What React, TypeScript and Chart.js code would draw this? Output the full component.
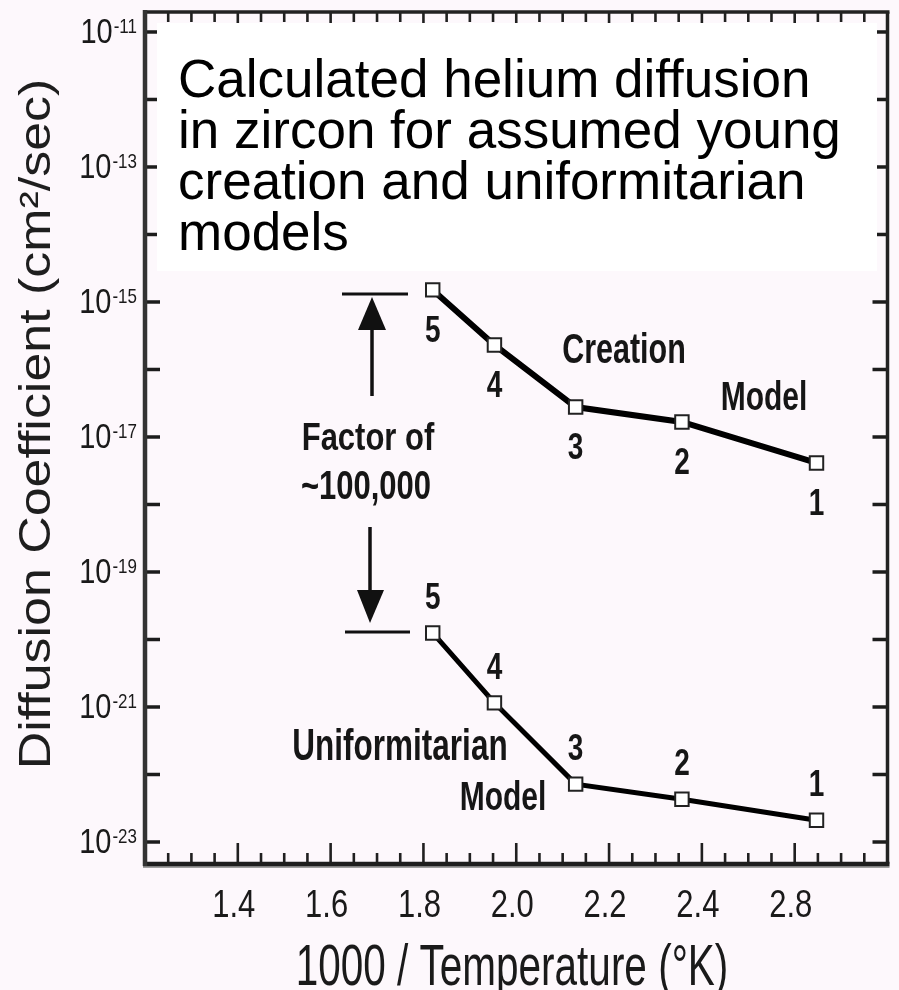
import { useEffect, useRef } from "react";
import { Chart, registerables } from "chart.js";

Chart.register(...registerables);

const SANS = "'Liberation Sans', Arial, sans-serif";
const BG = "#fdf8fc";
const INK = "#161616";

// ---- data ----
const inverseTemperature = [1.82, 1.953, 2.128, 2.357, 2.647];
const creationModel = [1.51e-15, 2.31e-16, 2.78e-17, 1.67e-17, 4.12e-18];
const uniformitarianModel = [1.25e-20, 1.15e-21, 7.2e-23, 4.3e-23, 2.1e-23];
const sampleLabels = ["5", "4", "3", "2", "1"];
const xTickValues = [1.4, 1.6, 1.8, 2.0, 2.2, 2.4, 2.6];
const xTickLabels = ["1.4", "1.6", "1.8", "2.0", "2.2", "2.4", "2.8"];
const yExponents = [-23, -22, -21, -20, -19, -18, -17, -16, -15, -14, -13, -12, -11];
const yLabelExponents = [-23, -21, -19, -17, -15, -13, -11];
const titleLines = [
  "Calculated helium diffusion",
  "in zircon for assumed young",
  "creation and uniformitarian",
  "models",
];
const yTitle = "Diffusion Coefficient (cm\u00B2/sec)";
const xTitle = "1000 / Temperature (\u00B0K)";

function stretched(
  ctx: CanvasRenderingContext2D, text: string, x: number, y: number, size: number,
  weight: string, sy: number, align: CanvasTextAlign = "center", color: string = INK
) {
  ctx.save();
  ctx.translate(x, y);
  ctx.scale(1, sy);
  ctx.font = `${weight} ${size}px ${SANS}`;
  ctx.textAlign = align;
  ctx.textBaseline = "alphabetic";
  ctx.fillStyle = color;
  ctx.fillText(text, 0, 0);
  ctx.restore();
}

function line(ctx: CanvasRenderingContext2D, x1: number, y1: number, x2: number, y2: number, w: number, c: string) {
  ctx.beginPath();
  ctx.moveTo(x1, y1);
  ctx.lineTo(x2, y2);
  ctx.lineWidth = w;
  ctx.strokeStyle = c;
  ctx.stroke();
}

export default function App() {
  const ref = useRef<HTMLCanvasElement>(null);

  useEffect(() => {
    document.body.style.margin = "0";
    document.body.style.background = BG;
    const canvas = ref.current!;

    const decor = {
      id: "decor",
      beforeDraw(chart: any) {
        const ctx = chart.ctx;
        ctx.save();
        ctx.fillStyle = BG;
        ctx.fillRect(0, 0, chart.width, chart.height);
        ctx.restore();
      },
      beforeDatasetsDraw(chart: any) {
        const ctx: CanvasRenderingContext2D = chart.ctx;
        const { left, right, top, bottom } = chart.chartArea;
        const xs = chart.scales.x;
        const ys = chart.scales.y;
        ctx.save();
        ctx.lineCap = "butt";
        // x ticks (bottom + top, inward)
        for (let i = 125; i <= 275; i += 5) {
          const px = xs.getPixelForValue(i / 100);
          const major = i % 20 === 0;
          line(ctx, px, bottom, px, bottom - (major ? 21 : 11), 2.6, "#202020");
          line(ctx, px, top, px, top + (major ? 12 : 10), 2.6, "#202020");
        }
        // y ticks (left + right, inward)
        for (const e of yExponents) {
          const py = ys.getPixelForValue(Math.pow(10, e));
          line(ctx, left, py, left + 15, py, 3.5, "#1c1c1c");
          line(ctx, right, py, right - 15, py, 3.5, "#1c1c1c");
        }
        // frame
        line(ctx, left - 2, top, right + 2, top, 3.5, "#222");
        line(ctx, right, top, right, bottom, 3.5, "#222");
        line(ctx, left - 2, bottom + 3, right + 2, bottom + 3, 2, "#a0a0a0");
        line(ctx, left - 2, bottom, right + 2, bottom, 4.5, "#1e1e1e");
        line(ctx, left, top - 2, left, bottom + 2, 4.5, "#333");

        // y tick labels: 10 with superscript exponent
        for (const e of yLabelExponents) {
          const py = ys.getPixelForValue(Math.pow(10, e));
          const expText = String(e);
          ctx.font = `17px ${SANS}`;
          const ew = ctx.measureText(expText).width;
          stretched(ctx, expText, left - 8, py + 1, 17, "normal", 1.15, "right", "#1a1a1a");
          stretched(ctx, "10", left - 9 - ew, py + 11, 29, "normal", 1.2, "right", "#1a1a1a");
        }
        // x tick labels
        xTickValues.forEach((v, i) => {
          const px = xs.getPixelForValue(v);
          stretched(ctx, xTickLabels[i], px - 4, 917, 31, "normal", 1.27, "center", "#1a1a1a");
        });
        // axis titles
        stretched(ctx, xTitle, 512, 985, 40.5, "normal", 1.4, "center", "#1a1a1a");
        ctx.save();
        ctx.translate(50, 424);
        ctx.rotate(-Math.PI / 2);
        ctx.scale(1.18, 1);
        ctx.font = `44px ${SANS}`;
        ctx.textAlign = "center";
        ctx.textBaseline = "alphabetic";
        ctx.fillStyle = "#1e1e1e";
        ctx.fillText(yTitle, 0, 0);
        ctx.restore();

        // title box
        ctx.fillStyle = "#ffffff";
        ctx.fillRect(157, 23, 720, 248);
        ctx.font = `53px ${SANS}`;
        ctx.fillStyle = "#000";
        ctx.textAlign = "left";
        ctx.textBaseline = "alphabetic";
        titleLines.forEach((t, i) => ctx.fillText(t, 178, 97 + i * 51));
        ctx.restore();
      },
      afterDatasetsDraw(chart: any) {
        const ctx: CanvasRenderingContext2D = chart.ctx;
        ctx.save();
        // sample numbers
        const m0 = chart.getDatasetMeta(0).data;
        const m1 = chart.getDatasetMeta(1).data;
        sampleLabels.forEach((lab, i) => {
          stretched(ctx, lab, m0[i].x, m0[i].y + 52, 28, "bold", 1.3);
          stretched(ctx, lab, m1[i].x, m1[i].y - 24, 28, "bold", 1.3);
        });
        // model names
        stretched(ctx, "Creation", 624, 363, 30.5, "bold", 1.4);
        stretched(ctx, "Model", 764, 410, 30, "bold", 1.38);
        stretched(ctx, "Uniformitarian", 400, 760, 31.5, "bold", 1.42);
        stretched(ctx, "Model", 503, 810, 30, "bold", 1.38);
        stretched(ctx, "Factor of", 368, 450, 31, "bold", 1.28);
        stretched(ctx, "~100,000", 366, 499, 31, "bold", 1.3);
        // factor arrows
        line(ctx, 342, 294, 408, 294, 3, "#111");
        line(ctx, 372, 396, 372, 326, 3.5, "#111");
        ctx.fillStyle = "#111";
        ctx.beginPath();
        ctx.moveTo(372, 297);
        ctx.lineTo(358, 330);
        ctx.lineTo(386, 330);
        ctx.closePath();
        ctx.fill();
        line(ctx, 345, 632, 410, 632, 3, "#111");
        line(ctx, 370, 527, 370, 592, 3.5, "#111");
        ctx.beginPath();
        ctx.moveTo(370, 623);
        ctx.lineTo(357, 590);
        ctx.lineTo(384, 590);
        ctx.closePath();
        ctx.fill();
        ctx.restore();
      },
    };

    const chart = new Chart(canvas, {
      type: "line",
      data: {
        datasets: [
          {
            label: "Creation Model",
            data: inverseTemperature.map((x, i) => ({ x, y: creationModel[i] })),
            borderColor: "#000",
            borderWidth: 6,
            pointStyle: "rect",
            pointRadius: 9.5,
            pointBackgroundColor: "#fff",
            pointBorderColor: "#222",
            pointBorderWidth: 2,
            tension: 0,
          },
          {
            label: "Uniformitarian Model",
            data: inverseTemperature.map((x, i) => ({ x, y: uniformitarianModel[i] })),
            borderColor: "#000",
            borderWidth: 5,
            pointStyle: "rect",
            pointRadius: 9.5,
            pointBackgroundColor: "#fff",
            pointBorderColor: "#222",
            pointBorderWidth: 2,
            tension: 0,
          },
        ],
      },
      options: {
        animation: false,
        responsive: true,
        maintainAspectRatio: false,
        layout: { padding: { left: 0, top: 12, right: 6, bottom: 0 } },
        plugins: { legend: { display: false }, tooltip: { enabled: false } },
        scales: {
          x: {
            type: "linear",
            min: 1.2,
            max: 2.8,
            afterBuildTicks: (s: any) => {
              s.ticks = xTickValues.map((v) => ({ value: v }));
            },
            afterFit: (s: any) => {
              s.height = 126;
              s.paddingLeft = 0;
              s.paddingRight = 0;
            },
            grid: { display: false },
            border: { display: false },
            ticks: { display: false },
          },
          y: {
            type: "logarithmic",
            min: Math.pow(10, -23.326),
            max: Math.pow(10, -10.704),
            afterBuildTicks: (s: any) => {
              s.ticks = yExponents.map((e) => ({ value: Math.pow(10, e) }));
            },
            afterFit: (s: any) => {
              s.width = 145;
              s.paddingTop = 0;
              s.paddingBottom = 0;
            },
            grid: { display: false },
            border: { display: false },
            ticks: { display: false },
          },
        },
      },
      plugins: [decor],
    } as any);

    return () => chart.destroy();
  }, []);

  return (
    <div style={{ width: 899, height: 990, position: "relative" }}>
      <canvas ref={ref} />
    </div>
  );
}
